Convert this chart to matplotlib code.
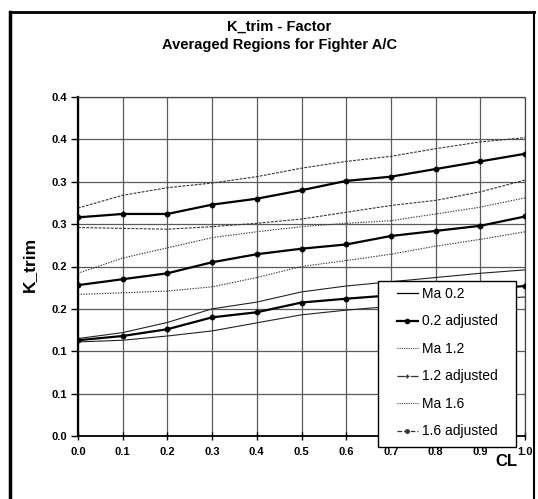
import matplotlib
matplotlib.use("Agg")
import matplotlib.pyplot as plt
from matplotlib.lines import Line2D
from matplotlib.patches import Rectangle

plt.rcParams['font.family'] = ['Liberation Sans', 'DejaVu Sans']

# ---- data -------------------------------------------------------------
cl = [0.0, 0.1, 0.2, 0.3, 0.4, 0.5, 0.6, 0.7, 0.8, 0.9, 1.0]

# Ma 0.2 region (lower / upper bound) and adjusted curve
ma02_low = [0.111, 0.113, 0.118, 0.124, 0.1335, 0.143, 0.1485, 0.153, 0.157, 0.161, 0.164]
ma02_up = [0.115, 0.122, 0.134, 0.150, 0.158, 0.170, 0.177, 0.182, 0.187, 0.192, 0.196]
ma02_adj = [0.113, 0.118, 0.126, 0.140, 0.146, 0.1575, 0.162, 0.166, 0.170, 0.173, 0.177]

# Ma 1.2 region and adjusted curve
ma12_low = [0.167, 0.169, 0.171, 0.176, 0.187, 0.200, 0.207, 0.2145, 0.224, 0.232, 0.241]
ma12_up = [0.192, 0.210, 0.222, 0.234, 0.241, 0.247, 0.251, 0.254, 0.262, 0.270, 0.281]
ma12_adj = [0.178, 0.185, 0.192, 0.205, 0.2145, 0.221, 0.226, 0.236, 0.242, 0.248, 0.259]

# Ma 1.6 region and adjusted curve
ma16_low = [0.246, 0.245, 0.244, 0.247, 0.251, 0.256, 0.264, 0.272, 0.278, 0.288, 0.302]
ma16_up = [0.269, 0.284, 0.293, 0.2985, 0.306, 0.316, 0.324, 0.330, 0.339, 0.347, 0.352]
ma16_adj = [0.258, 0.262, 0.262, 0.273, 0.280, 0.290, 0.301, 0.306, 0.315, 0.324, 0.333]

x_ticks = [0.0, 0.1, 0.2, 0.3, 0.4, 0.5, 0.6, 0.7, 0.8, 0.9, 1.0]
x_tick_labels = ['0.0', '0.1', '0.2', '0.3', '0.4', '0.5', '0.6', '0.7', '0.8', '0.9', '1.0']
y_ticks = [0.0, 0.05, 0.10, 0.15, 0.20, 0.25, 0.30, 0.35, 0.40]
y_tick_labels = ['0.0', '0.1', '0.1', '0.2', '0.2', '0.3', '0.3', '0.4', '0.4']

legend_labels = ['Ma 0.2', '0.2 adjusted', 'Ma 1.2', '1.2 adjusted', 'Ma 1.6', '1.6 adjusted']

# ---- figure -----------------------------------------------------------
W, H = 538, 499
fig = plt.figure(figsize=(W / 100, H / 100), dpi=100)


def fx(px):
    return px / W


def fy(py):
    return 1 - py / H


ax = fig.add_axes([fx(78), fy(436), fx(525) - fx(78), fy(97) - fy(436)])

bound_styles = {
    'ma02': dict(color='#222222', lw=0.8, ls='-'),
    'ma12': dict(color='#333333', lw=0.8, ls=(0, (1.2, 1.2))),
    'ma16': dict(color='#333333', lw=0.8, ls=(0, (2.5, 1.2))),
}
adj_style = dict(color='black', lw=1.6, marker='o', ms=3.2, zorder=3)

for low, up, key in [(ma02_low, ma02_up, 'ma02'),
                     (ma12_low, ma12_up, 'ma12'),
                     (ma16_low, ma16_up, 'ma16')]:
    ax.plot(cl, low, zorder=2, **bound_styles[key])
    ax.plot(cl, up, zorder=2, **bound_styles[key])

for adj in (ma02_adj, ma12_adj, ma16_adj):
    ax.plot(cl, adj, **adj_style)

ax.set_xlim(0, 1.0)
ax.set_ylim(0, 0.40)
ax.set_xticks(x_ticks)
ax.set_xticklabels(x_tick_labels, fontweight='bold', fontsize=8)
ax.set_yticks(y_ticks)
ax.set_yticklabels(y_tick_labels, fontweight='bold', fontsize=8)
ax.tick_params(axis='x', direction='inout', length=6, width=1, pad=5)
ax.tick_params(axis='y', direction='out', length=5, width=1, pad=3)
ax.grid(True, color='#5a5a5a', lw=0.9)
ax.set_axisbelow(True)

ax.spines['left'].set_linewidth(1.6)
ax.spines['bottom'].set_linewidth(1.3)
for side in ('top', 'right'):
    ax.spines[side].set_linestyle((0, (1, 1)))
    ax.spines[side].set_linewidth(0.9)
    ax.spines[side].set_color('#444444')

# titles and axis labels
fig.text(fx(279.5), fy(26.5), 'K_trim - Factor', ha='center', va='center',
         fontsize=10.5, fontweight='bold')
fig.text(fx(279.5), fy(45.5), 'Averaged Regions for Fighter A/C', ha='center',
         va='center', fontsize=10.5, fontweight='bold')
fig.text(fx(29), fy(264.5), 'K_trim', rotation=90, ha='center', va='center',
         fontsize=12.5, fontweight='bold')
fig.text(fx(506.5), fy(461), 'CL', ha='center', va='center',
         fontsize=12, fontweight='bold')

# legend box
fig.add_artist(Rectangle((fx(378), fy(447)), fx(516) - fx(378), fy(281) - fy(447),
                         transform=fig.transFigure, facecolor='white',
                         edgecolor='black', lw=1.0, zorder=4))

handles = [
    Line2D([], [], color='black', lw=0.9),
    Line2D([], [], color='black', lw=1.6, marker='o', ms=3),
    Line2D([], [], color='#444444', lw=0.8, ls=(0, (1, 1))),
    Line2D([], [], color='#333333', lw=0.9, ls='-.', marker='+', ms=3),
    Line2D([], [], color='#444444', lw=0.8, ls=(0, (1, 1))),
    Line2D([], [], color='#333333', lw=0.9, ls='--', marker='o', ms=2.5),
]
fig.legend(handles, legend_labels, loc='upper left',
           bbox_to_anchor=(fx(397), fy(287)), frameon=False, fontsize=10,
           handlelength=1.5, handletextpad=0.3, labelspacing=0.97,
           borderpad=0, borderaxespad=0)

# outer frame (open at the bottom)
fig.add_artist(Line2D([fx(10), fx(10)], [fy(12), 0], color='black', lw=2.5,
                      transform=fig.transFigure))
fig.add_artist(Line2D([fx(10), fx(534)], [fy(12), fy(12)], color='black', lw=2,
                      transform=fig.transFigure))
fig.add_artist(Line2D([fx(534), fx(534)], [fy(12), 0], color='black', lw=1.5,
                      transform=fig.transFigure))

fig.savefig('out.png', dpi=100)
